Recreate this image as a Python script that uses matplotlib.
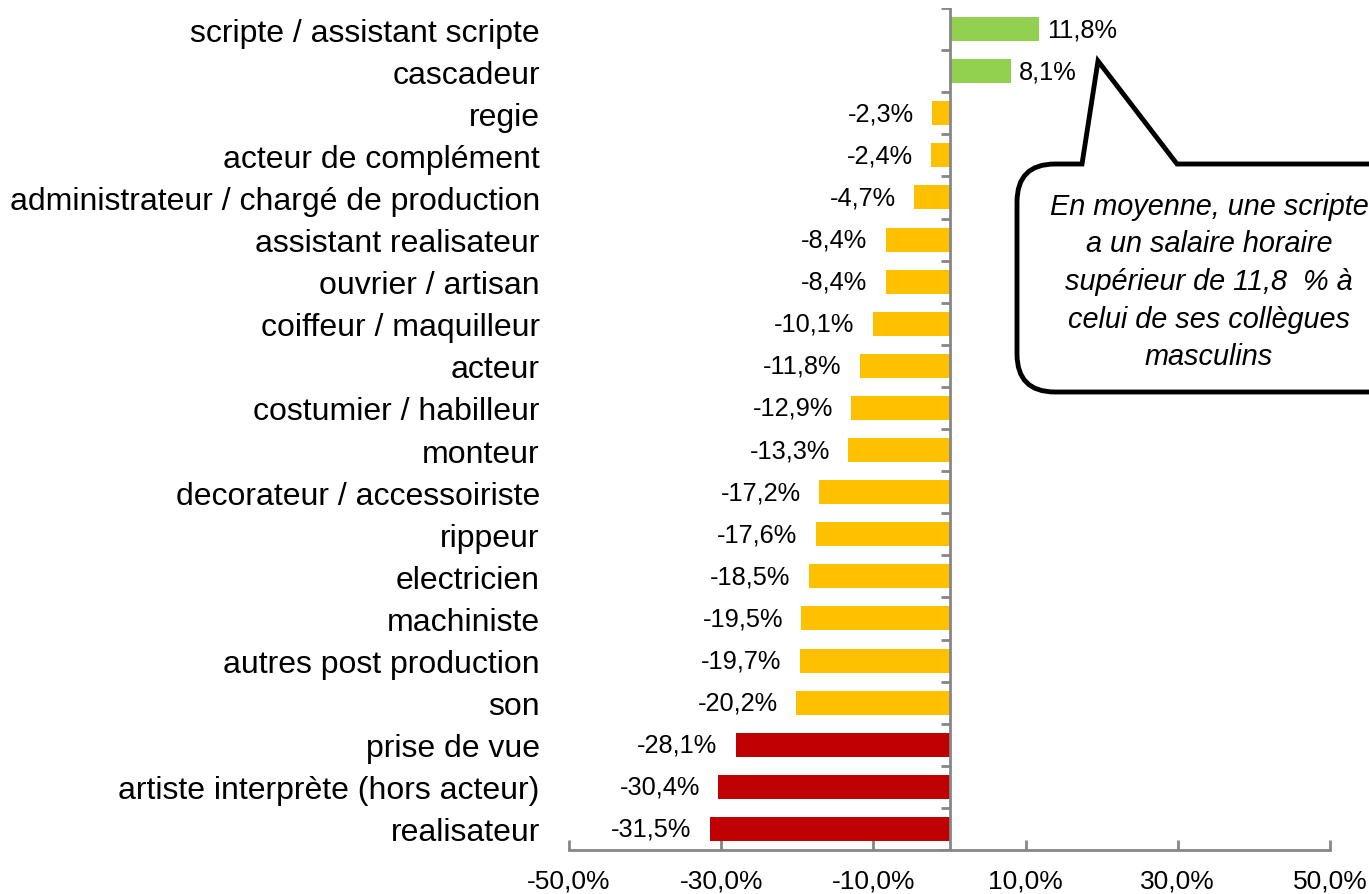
import numpy as np
import matplotlib.pyplot as plt
from matplotlib.path import Path
from matplotlib.patches import PathPatch

plt.rcParams['font.family'] = ['Liberation Sans', 'DejaVu Sans']

metiers = ['scripte / assistant scripte', 'cascadeur', 'regie', 'acteur de complément',
           'administrateur / chargé de production', 'assistant realisateur', 'ouvrier / artisan',
           'coiffeur / maquilleur', 'acteur', 'costumier / habilleur', 'monteur',
           'decorateur / accessoiriste', 'rippeur', 'electricien', 'machiniste',
           'autres post production', 'son', 'prise de vue',
           'artiste interprète (hors acteur)', 'realisateur']
ecart = [11.8, 8.1, -2.3, -2.4, -4.7, -8.4, -8.4, -10.1, -11.8, -12.9, -13.3,
         -17.2, -17.6, -18.5, -19.5, -19.7, -20.2, -28.1, -30.4, -31.5]
groupe = ['vert'] * 2 + ['orange'] * 15 + ['rouge'] * 3
couleurs = {'vert': '#92D050', 'orange': '#FFC000', 'rouge': '#C00000'}
xticks = [-50, -30, -10, 10, 30, 50]

gris = '#868686'

fig = plt.figure(figsize=(13.69, 8.95), dpi=100)
ax = fig.add_axes([569 / 1369, 1 - 851 / 895, (1330 - 569) / 1369, (851 - 9) / 895])

y = np.arange(len(metiers))
ax.barh(y, ecart, height=0.57, color=[couleurs[g] for g in groupe], zorder=2)
ax.set_xlim(-50, 50)
ax.set_ylim(len(metiers) - 0.5, -0.5)

# etiquettes de valeurs
for yi, v in zip(y, ecart):
    txt = f'{v:.1f}%'.replace('.', ',')
    if v < 0:
        ax.annotate(txt, (v, yi), xytext=(-13, 0), textcoords='offset points',
                    ha='right', va='center', fontsize=18.3)
    else:
        ax.annotate(txt, (v, yi), xytext=(5.5, 0), textcoords='offset points',
                    ha='left', va='center', fontsize=18.3)

# axe vertical a zero avec graduations entre categories
ax.axvline(0, color=gris, lw=2, zorder=3)
bornes = np.arange(len(metiers) + 1) - 0.5
ax.hlines(bornes, -1.1, 0, color=gris, lw=2, zorder=3)

ax.set_yticks(y)
ax.set_yticklabels(metiers, fontsize=23)
ax.tick_params(axis='y', length=0, pad=21)

ax.set_xticks(xticks)
ax.set_xticklabels([f'{t:.1f}%'.replace('.', ',') for t in xticks], fontsize=19)
ax.tick_params(axis='x', direction='in', length=7, width=2, color=gris, pad=13)

for s in ['top', 'right', 'left']:
    ax.spines[s].set_visible(False)
ax.spines['bottom'].set_color(gris)
ax.spines['bottom'].set_linewidth(2)

# bulle de commentaire (coordonnees en pixels de la figure)
ov = fig.add_axes([0, 0, 1, 1], facecolor='none')
ov.set_xlim(0, 1369)
ov.set_ylim(895, 0)
ov.axis('off')

r = 38
x0, x1, y0, y1 = 1017, 1420, 165, 393
verts = [(1082, y0), (1098, 62), (1177, y0), (x1 - r, y0),
         (x1, y0), (x1, y0 + r), (x1, y1 - r),
         (x1, y1), (x1 - r, y1), (x0 + r, y1),
         (x0, y1), (x0, y1 - r), (x0, y0 + r),
         (x0, y0), (x0 + r, y0), (1082, y0)]
codes = [Path.MOVETO, Path.LINETO, Path.LINETO, Path.LINETO,
         Path.CURVE3, Path.CURVE3, Path.LINETO,
         Path.CURVE3, Path.CURVE3, Path.LINETO,
         Path.CURVE3, Path.CURVE3, Path.LINETO,
         Path.CURVE3, Path.CURVE3, Path.CLOSEPOLY]
ov.add_patch(PathPatch(Path(verts, codes), facecolor='white', edgecolor='black',
                       lw=3.5, joinstyle='miter', clip_on=False))
ov.text(1209, 282, 'En moyenne, une scripte\na un salaire horaire\nsupérieur de 11,8  % à\n'
        'celui de ses collègues\nmasculins', ha='center', va='center', style='italic',
        fontsize=20.8, linespacing=1.44, clip_on=False)

fig.savefig('out.png', dpi=100)
